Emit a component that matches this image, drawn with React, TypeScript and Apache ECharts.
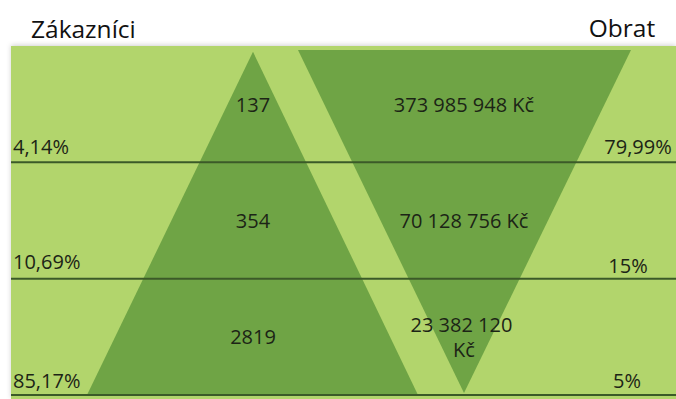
import { useEffect, useRef } from "react";
import * as echarts from "echarts";

// ---- data ----
const bands = ["Top", "Middle", "Bottom"];
const customers = [137, 354, 2819];
const customerShare = ["4,14%", "10,69%", "85,17%"];
const revenue = [373985948, 70128756, 23382120];
const revenueShare = ["79,99%", "15%", "5%"];
const leftTitle = "Zákazníci";
const rightTitle = "Obrat";
const currency = "Kč";

// ---- layout / style ----
const X_MAX = 665;
const UP_TRI = [
  [242, 2.95],
  [407, 0],
  [76, 0],
];
const DOWN_TRI = [
  [287, 2.965],
  [620, 2.965],
  [453, 0.017],
];
const V_APEX_Y = 0.017;
const V_TOP_Y = 2.965;
const V_TOP_W = 620 - 287;
const UP_X = 242;
const V_X = 453;
const RIGHT_OFFSETS = [38, 48, 49];
const LEFT_UP = [16, 17, 15];
const RIGHT_UP = [16, 13, 15];

const LIGHT = "#b2d56c";
const DARK = "#6fa445";
const LINE = "#3b5a28";
const TEXT = "#1c2416";
const FONT = "Open Sans";

const fmtMoney = (n: number) =>
  String(n).replace(/\B(?=(\d{3})+(?!\d))/g, " ") + " " + currency;

export default function App() {
  const ref = useRef<HTMLDivElement>(null);
  useEffect(() => {
    document.body.style.margin = "0";
    const chart = echarts.init(ref.current!, undefined, { renderer: "svg" });
    chart.setOption({
      animation: false,
      backgroundColor: "#ffffff",
      grid: { left: 11, right: 0, top: 46, bottom: 4 },
      xAxis: { type: "value", min: 0, max: X_MAX, show: false },
      yAxis: { type: "value", min: 0, max: 3, show: false },
      graphic: [
        {
          type: "rect",
          left: 11,
          top: 46,
          z: -10,
          shape: { width: 665, height: 353 },
          style: {
            fill: LIGHT,
            shadowBlur: 5,
            shadowColor: "rgba(0,0,0,0.18)",
            shadowOffsetY: -1,
          },
        },
        {
          type: "text",
          x: 31,
          y: 28,
          style: {
            text: leftTitle,
            fontSize: 24.5,
            fontFamily: FONT,
            fill: "#111111",
            align: "left",
            verticalAlign: "middle",
          },
        },
        {
          type: "text",
          x: 622,
          y: 27,
          style: {
            text: rightTitle,
            fontSize: 24.5,
            fontFamily: FONT,
            fill: "#111111",
            align: "center",
            verticalAlign: "middle",
          },
        },
      ],
      series: [
        {
          type: "custom",
          name: "shapes",
          data: [[0, 0]],
          z: 2,
          renderItem: (_params: any, api: any) => {
            const pts = (arr: number[][]) => arr.map((p) => api.coord(p));
            return {
              type: "group",
              children: [
                { type: "polygon", shape: { points: pts(UP_TRI) }, style: { fill: DARK } },
                { type: "polygon", shape: { points: pts(DOWN_TRI) }, style: { fill: DARK } },
              ],
            };
          },
        },
        {
          type: "custom",
          name: "bands",
          z: 3,
          data: bands.map((b, i) => ({ name: b, value: [i, customers[i], revenue[i]] })),
          renderItem: (params: any, api: any) => {
            const i = params.dataIndex;
            const yBottom = 2 - i;
            const yMid = 2.5 - i;
            const yTop = 3 - i;
            const [xl, yb] = api.coord([0, yBottom]);
            const [xr] = api.coord([X_MAX, yBottom]);
            const [cx, cy] = api.coord([UP_X, yMid]);
            const [vx] = api.coord([V_X, yMid]);
            const frac = (yTop - V_APEX_Y) / (V_TOP_Y - V_APEX_Y);
            const vw = api.size([Math.min(1, frac) * V_TOP_W, 0])[0];
            const txt = (extra: any) => ({
              fill: TEXT,
              fontSize: 20,
              fontFamily: FONT,
              verticalAlign: "middle",
              ...extra,
            });
            return {
              type: "group",
              children: [
                {
                  type: "line",
                  shape: { x1: xl, y1: yb, x2: xr, y2: yb },
                  style: { stroke: LINE, lineWidth: 2 },
                },
                {
                  type: "text",
                  x: cx,
                  y: cy,
                  style: txt({ text: String(customers[i]), align: "center" }),
                },
                {
                  type: "text",
                  x: vx,
                  y: cy,
                  style: txt({
                    text: fmtMoney(revenue[i]),
                    align: "center",
                    width: vw,
                    overflow: "break",
                    lineHeight: 25,
                  }),
                },
                {
                  type: "text",
                  x: xl + 2,
                  y: yb - LEFT_UP[i],
                  style: txt({ text: customerShare[i], align: "left" }),
                },
                {
                  type: "text",
                  x: xr - RIGHT_OFFSETS[i],
                  y: yb - RIGHT_UP[i],
                  style: txt({ text: revenueShare[i], align: "center" }),
                },
              ],
            };
          },
        },
      ],
    });
    return () => chart.dispose();
  }, []);
  return (
    <div
      ref={ref}
      style={{ position: "absolute", left: 0, top: 0, width: 676, height: 399 }}
    />
  );
}
